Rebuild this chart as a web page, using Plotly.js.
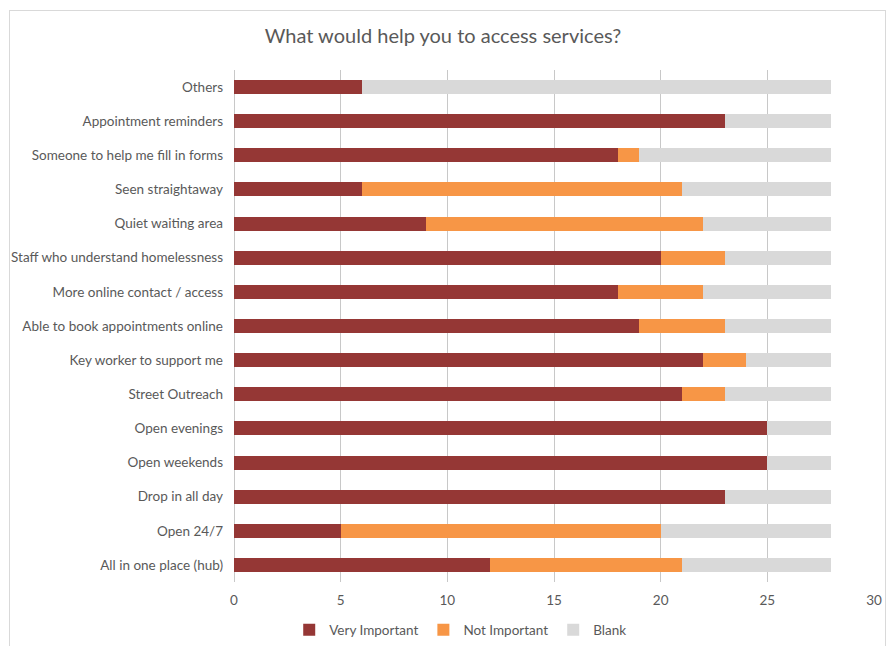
<!DOCTYPE html>
<html><head><meta charset="utf-8">
<script src="https://cdn.plot.ly/plotly-3.0.1.min.js"></script>
<style>body{margin:0;padding:0;background:#fff}#wrap{position:relative;width:886px;height:646px}#chart{width:886px;height:646px}#frame{position:absolute;left:9px;top:10px;width:875px;height:640px;border:1px solid #D9D9D9;pointer-events:none}</style>
</head><body>
<div id="wrap"><div id="chart"></div><div id="frame"></div></div>
<script>
const categories = ["All in one place (hub)","Open 24/7","Drop in all day","Open weekends","Open evenings","Street Outreach","Key worker to support me","Able to book appointments online","More online contact / access","Staff who understand homelessness","Quiet waiting area","Seen straightaway","Someone to help me fill in forms","Appointment reminders","Others"];
const veryImportant = [12,5,23,25,25,21,22,19,18,20,9,6,18,23,6];
const notImportant = [9,15,0,0,0,2,2,4,4,3,13,15,1,0,0];
const blank = [7,8,5,3,3,5,4,5,6,5,6,7,9,5,22];
const seriesNames = ["Very Important","Not Important","Blank"];
const colors = ["#953735","#F79646","#D9D9D9"];
const font = "Lato, 'Open Sans', sans-serif";
const traces = [veryImportant, notImportant, blank].map((v,i)=>({
  type:'bar', orientation:'h', name:seriesNames[i], y:categories, x:v,
  marker:{color:colors[i]}, hoverinfo:'x+name'
}));
const layout = {
  width:886, height:646, barmode:'stack', bargap:0.59,
  margin:{l:234,r:12,t:70,b:64, autoexpand:false},
  paper_bgcolor:'#fff', plot_bgcolor:'#fff',
  font:{family:font, color:'#595959', size:13.5},
  title:{text:'What would help you to access services?', x:0.5, xanchor:'center', xref:'container', y:0.945, yanchor:'middle', yref:'container', font:{size:20, color:'#595959', family:font}},
  xaxis:{range:[0,30], dtick:5, tick0:0, showgrid:true, gridcolor:'#C8C8C8', gridwidth:1, zeroline:true, zerolinecolor:'#C8C8C8', zerolinewidth:1, showline:false, ticks:'', tickfont:{size:13.5,color:'#595959'}, ticklabelstandoff:8, layer:'below traces'},
  yaxis:{type:'category', categoryorder:'array', categoryarray:categories, showgrid:false, zeroline:false, showline:false, ticks:'', ticklabelstandoff:10, tickfont:{size:13.5,color:'#595959'}},
  legend:{orientation:'h', x:0.52, xanchor:'center', xref:'container', y:0.025, yanchor:'middle', yref:'container', traceorder:'normal', font:{size:13.5,color:'#595959'}, itemwidth:30},
  showlegend:true
};
Plotly.newPlot('chart', traces, layout, {displayModeBar:false, staticPlot:true});
</script>
</body></html>
